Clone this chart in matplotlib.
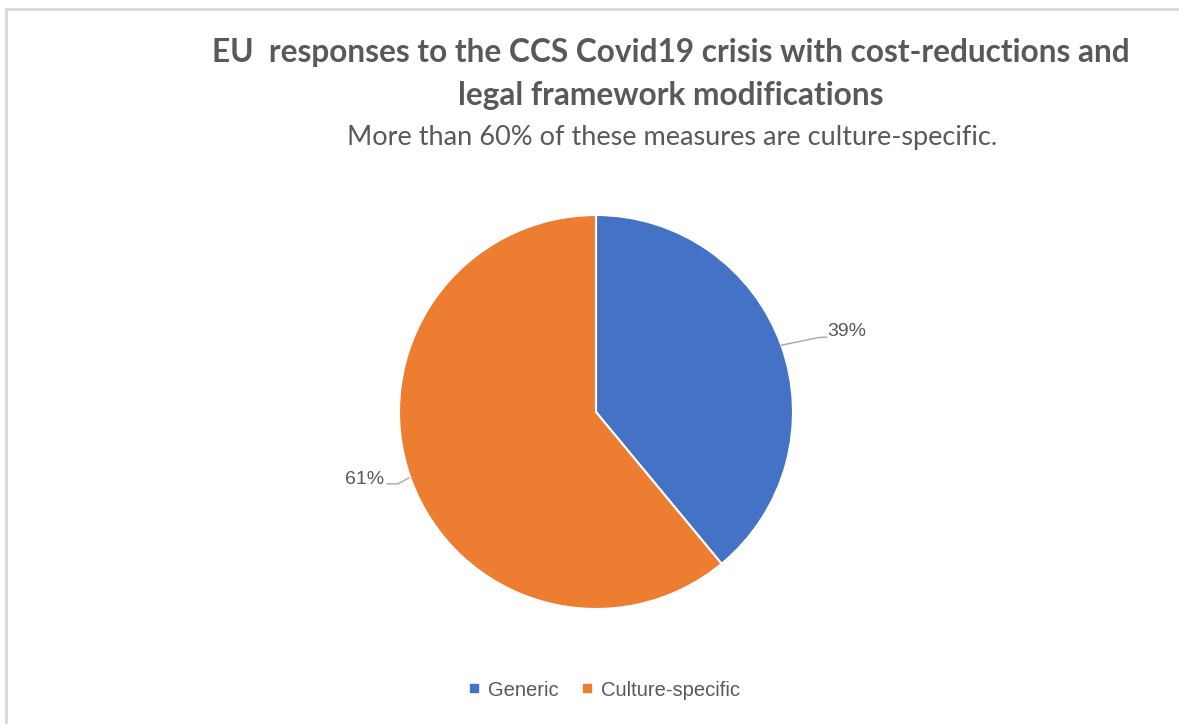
import matplotlib
matplotlib.use('agg')
import matplotlib.pyplot as plt
from matplotlib.patches import Rectangle
from matplotlib.lines import Line2D

categories = ['Generic', 'Culture-specific']
shares = [39, 61]
colors = ['#4472C4', '#ED7D31']

title = 'EU  responses to the CCS Covid19 crisis with cost-reductions and\nlegal framework modifications'
subtitle = 'More than 60% of these measures are culture-specific.'

W, H = 1179, 724
fig = plt.figure(figsize=(W / 100, H / 100), dpi=100)
fig.patch.set_facecolor('white')

# chart area frame, open to the right and bottom
fig.add_artist(Rectangle((6 / W, -0.1), 1.2, (H - 9) / H + 0.1, transform=fig.transFigure,
                         fill=False, edgecolor='#d9d9d9', linewidth=2))

# pie centred at (596, 412) px with a 197 px radius
cx, cy, r = 596, 412, 197
ax = fig.add_axes([(cx - r) / W, (H - cy - r) / H, 2 * r / W, 2 * r / H])
wedges, _ = ax.pie(shares, colors=colors, startangle=90, counterclock=False,
                   wedgeprops=dict(edgecolor='white', linewidth=1.5))
ax.set_xlim(-1, 1)
ax.set_ylim(-1, 1)
ax.set_aspect('auto')
ax.axis('off')

grey = '#595959'
lab_font = dict(family=['Liberation Sans', 'DejaVu Sans'], size=14, color=grey)

# data labels with leader lines
ax.add_line(Line2D([0.941, 1.13, 1.17], [0.339, 0.378, 0.380], color='#a6a6a6',
                   lw=1, clip_on=False))
ax.text(1.175, 0.41, f'{shares[0]}%', ha='left', va='center', **lab_font)
ax.add_line(Line2D([-0.951, -1.005, -1.06], [-0.335, -0.365, -0.365], color='#a6a6a6',
                   lw=1, clip_on=False))
ax.text(-1.075, -0.345, f'{shares[1]}%', ha='right', va='center', **lab_font)

fig.text(671 / W, 1 - 74 / H, title, ha='center', va='center', fontsize=22.8,
         fontweight='bold', color=grey, linespacing=1.62,
         family=['Lato', 'DejaVu Sans'])
fig.text(672 / W, 1 - 137 / H, subtitle, ha='center', va='center', fontsize=19.5,
         color=grey, family=['Lato', 'DejaVu Sans'])

handles = [Line2D([], [], marker='s', linestyle='none', markersize=6,
                  markerfacecolor=c, markeredgecolor=c) for c in colors]
fig.legend(handles, categories, loc='center', bbox_to_anchor=(603 / W, 1 - 690 / H),
           ncol=2, frameon=False, handletextpad=0.3, columnspacing=1.0,
           handlelength=0.8, prop=dict(family=['Liberation Sans', 'DejaVu Sans'], size=14.5),
           labelcolor=grey)

fig.savefig('out.png', dpi=100)
